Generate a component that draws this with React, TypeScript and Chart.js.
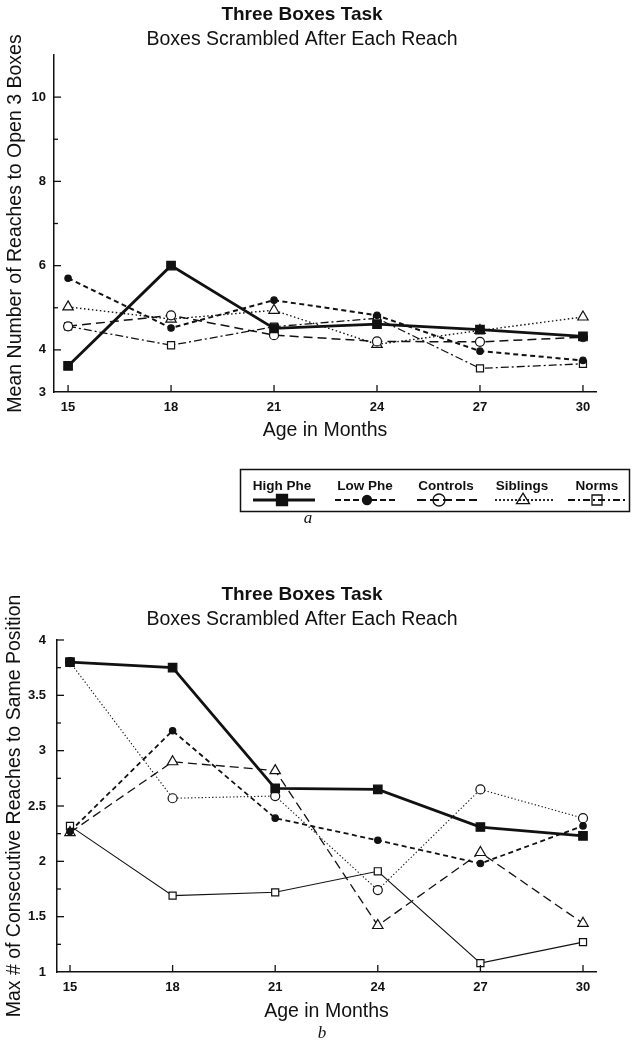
import React, { useEffect, useRef } from 'react';
import { Chart, registerables } from 'chart.js';

Chart.register(...registerables);

// ---------- data ----------
const ages = [15, 18, 21, 24, 27, 30];
const xTickLabels = ['15', '18', '21', '24', '27', '30'];
const seriesNames = ['High Phe', 'Low Phe', 'Controls', 'Siblings', 'Norms'];

// panel a: Mean Number of Reaches to Open 3 Boxes
const aHighPhe = [3.62, 6.0, 4.51, 4.61, 4.48, 4.32];
const aLowPhe = [5.7, 4.52, 5.18, 4.82, 3.97, 3.75];
const aControls = [4.56, 4.82, 4.35, 4.2, 4.19, 4.3];
const aSiblings = [5.02, 4.73, 4.94, 4.13, 4.46, 4.78];
const aNorms = [4.56, 4.11, 4.55, 4.75, 3.56, 3.67];
const aYTicks = [3, 4, 6, 8, 10];
const aYTickLabels = ['3', '4', '6', '8', '10'];
const aYMinor = [5, 7, 9];

// panel b: Max # of Consecutive Reaches to Same Position
const bHighPhe = [3.8, 3.75, 2.66, 2.65, 2.31, 2.23];
const bLowPhe = [2.27, 3.18, 2.39, 2.19, 1.98, 2.32];
const bControls = [3.8, 2.57, 2.59, 1.74, 2.65, 2.39];
const bSiblings = [2.26, 2.9, 2.82, 1.42, 2.08, 1.44];
const bNorms = [2.32, 1.69, 1.72, 1.91, 1.08, 1.27];
const bYTicks = [1, 1.5, 2, 2.5, 3, 3.5, 4];
const bYTickLabels = ['1', '1.5', '2', '2.5', '3', '3.5', '4'];
const bYMinor = [1.25, 1.75, 2.25, 2.75, 3.25, 3.75];

// ---------- styles ----------
const INK = '#111';
const SANS = "'Liberation Sans', Arial, Helvetica, sans-serif";
const SERIF = "'Liberation Serif', 'DejaVu Serif', serif";

type Style = {
  width: number;
  dash: number[];
  shape: 'rect' | 'circle' | 'triangle';
  radius: number;
  filled: boolean;
};

const aStyles: Style[] = [
  { width: 2.8, dash: [], shape: 'rect', radius: 6, filled: true },
  { width: 2, dash: [5, 3.5], shape: 'circle', radius: 3.2, filled: true },
  { width: 1.5, dash: [9, 5], shape: 'circle', radius: 4.5, filled: false },
  { width: 1.4, dash: [1.5, 2.5], shape: 'triangle', radius: 6, filled: false },
  { width: 1.3, dash: [8, 3, 2, 3], shape: 'rect', radius: 5, filled: false },
];

const bStyles: Style[] = [
  { width: 2.8, dash: [], shape: 'rect', radius: 6, filled: true },
  { width: 1.8, dash: [5, 3.5], shape: 'circle', radius: 3.2, filled: true },
  { width: 1.1, dash: [1.3, 2.2], shape: 'circle', radius: 4.5, filled: false },
  { width: 1.3, dash: [9, 5], shape: 'triangle', radius: 6, filled: false },
  { width: 1.1, dash: [], shape: 'rect', radius: 5, filled: false },
];

function makeDatasets(series: number[][], styles: Style[]) {
  return series.map((vals, i) => {
    const s = styles[i];
    return {
      label: seriesNames[i],
      data: ages.map((a, j) => ({ x: a, y: vals[j] })),
      borderColor: INK,
      borderWidth: s.width,
      borderDash: s.dash,
      fill: false,
      tension: 0,
      pointStyle: s.shape,
      pointRadius: s.radius,
      pointBorderColor: INK,
      pointBorderWidth: 1.2,
      pointBackgroundColor: s.filled ? INK : '#fff',
      backgroundColor: s.filled ? INK : '#fff',
    };
  });
}

function drawMarker(ctx: CanvasRenderingContext2D, shape: string, x: number, y: number, size: number, filled: boolean) {
  ctx.save();
  ctx.setLineDash([]);
  ctx.lineWidth = 1.3;
  ctx.strokeStyle = INK;
  ctx.fillStyle = filled ? INK : '#fff';
  ctx.beginPath();
  if (shape === 'rect') {
    ctx.rect(x - size / 2, y - size / 2, size, size);
  } else if (shape === 'circle') {
    ctx.arc(x, y, size / 2, 0, Math.PI * 2);
  } else {
    const h = size * 0.8;
    ctx.moveTo(x, y - h * 0.66);
    ctx.lineTo(x + size / 2, y + h * 0.34);
    ctx.lineTo(x - size / 2, y + h * 0.34);
    ctx.closePath();
  }
  if (filled) ctx.fill();
  ctx.stroke();
  ctx.restore();
}

type DecorCfg = {
  titleX: number;
  titleY: number;
  subtitleY: number;
  letter: string;
  letterX: number;
  letterY: number;
  yTicks: number[];
  yMinor: number[];
  legend: boolean;
};

function makeDecor(cfg: DecorCfg) {
  return {
    id: 'decor',
    afterDraw(chart: any) {
      const ctx: CanvasRenderingContext2D = chart.ctx;
      const { left, bottom } = chart.chartArea;
      const xs = chart.scales.x;
      const ys = chart.scales.y;
      ctx.save();
      ctx.strokeStyle = INK;
      ctx.lineWidth = 1.3;
      ctx.setLineDash([]);
      const seg = (x1: number, y1: number, x2: number, y2: number) => {
        ctx.beginPath();
        ctx.moveTo(x1, y1);
        ctx.lineTo(x2, y2);
        ctx.stroke();
      };
      ages.forEach((a) => {
        const px = xs.getPixelForValue(a);
        seg(px, bottom, px, bottom - 7);
      });
      cfg.yTicks.forEach((v) => {
        if (v === ys.min) return;
        const py = ys.getPixelForValue(v);
        seg(left, py, left + 7, py);
      });
      cfg.yMinor.forEach((v) => {
        const py = ys.getPixelForValue(v);
        seg(left, py, left + 4, py);
      });

      ctx.fillStyle = INK;
      ctx.textAlign = 'center';
      ctx.textBaseline = 'middle';
      ctx.font = `bold 19px ${SANS}`;
      ctx.fillText('Three Boxes Task', cfg.titleX, cfg.titleY);
      ctx.font = `19.5px ${SANS}`;
      ctx.fillText('Boxes Scrambled After Each Reach', cfg.titleX, cfg.subtitleY);
      ctx.font = `italic 17px ${SERIF}`;
      ctx.fillText(cfg.letter, cfg.letterX, cfg.letterY);

      if (cfg.legend) {
        ctx.lineWidth = 1.5;
        ctx.strokeRect(240.5, 469.5, 389, 42);
        const items = [
          { tx: 282, x1: 253, x2: 315, mx: 282, size: 11, lw: 3, dash: [] as number[] },
          { tx: 365, x1: 335, x2: 397, mx: 367, size: 9, lw: 2.2, dash: [6, 3] },
          { tx: 446, x1: 417, x2: 477, mx: 439, size: 12, lw: 2.2, dash: [9, 4] },
          { tx: 522, x1: 495, x2: 553, mx: 523, size: 13, lw: 1.8, dash: [2, 2] },
          { tx: 597, x1: 568, x2: 628, mx: 597, size: 10, lw: 2, dash: [7, 3, 2, 3] },
        ];
        items.forEach((it, i) => {
          ctx.font = `bold 13.5px ${SANS}`;
          ctx.fillStyle = INK;
          ctx.textAlign = 'center';
          ctx.textBaseline = 'middle';
          ctx.fillText(seriesNames[i], it.tx, 486);
          ctx.save();
          ctx.lineWidth = it.lw;
          ctx.setLineDash(it.dash);
          seg(it.x1, 500, it.x2, 500);
          ctx.restore();
          const st = aStyles[i];
          if (i === 2) {
            // open circle with the line passing through
            ctx.save();
            ctx.lineWidth = 1.3;
            ctx.setLineDash([]);
            ctx.beginPath();
            ctx.arc(it.mx, 500, it.size / 2, 0, Math.PI * 2);
            ctx.stroke();
            ctx.restore();
          } else {
            drawMarker(ctx, st.shape, it.mx, 500, it.size, st.filled);
          }
        });
      }
      ctx.restore();
    },
  };
}

type PanelCfg = {
  height: number;
  padTop: number;
  padBottom: number;
  yWidth: number;
  yLabelPad: number;
  yTitlePad: number;
  xTitlePad: number;
  xMin: number;
  xMax: number;
  yMin: number;
  yMax: number;
  yTicks: number[];
  yTickLabels: string[];
  yMinor: number[];
  yTitle: string;
  series: number[][];
  styles: Style[];
  decor: DecorCfg;
};

function buildConfig(p: PanelCfg): any {
  const tickFont = { family: SANS, size: 13, weight: 'bold' as const };
  const titleFont = { family: SANS, size: 19.5, weight: 'normal' as const };
  return {
    type: 'line',
    data: { datasets: makeDatasets(p.series, p.styles) },
    options: {
      responsive: false,
      animation: false,
      devicePixelRatio: 1,
      layout: { padding: { top: p.padTop, left: 0, right: 36, bottom: p.padBottom } },
      plugins: {
        legend: { display: false },
        tooltip: { enabled: false },
        title: { display: false },
      },
      scales: {
        x: {
          type: 'linear',
          min: p.xMin,
          max: p.xMax,
          grid: { display: false, drawTicks: false },
          border: { display: true, color: INK, width: 1.5 },
          ticks: {
            font: tickFont,
            color: INK,
            padding: 8,
            autoSkip: false,
            maxRotation: 0,
            callback: (v: number) => {
              const i = ages.indexOf(v);
              return i >= 0 ? xTickLabels[i] : '';
            },
          },
          afterBuildTicks: (s: any) => {
            s.ticks = ages.map((v) => ({ value: v }));
          },
          afterFit: (s: any) => {
            s.height = 55;
          },
          title: {
            display: true,
            text: 'Age in Months',
            font: titleFont,
            color: INK,
            padding: { top: 0, bottom: p.xTitlePad },
          },
        },
        y: {
          type: 'linear',
          min: p.yMin,
          max: p.yMax,
          grid: { display: false, drawTicks: false },
          border: { display: true, color: INK, width: 1.5 },
          ticks: {
            font: tickFont,
            color: INK,
            padding: p.yLabelPad,
            autoSkip: false,
            callback: (v: number) => {
              const i = p.yTicks.indexOf(v);
              return i >= 0 ? p.yTickLabels[i] : '';
            },
          },
          afterBuildTicks: (s: any) => {
            s.ticks = p.yTicks.map((v) => ({ value: v }));
          },
          afterFit: (s: any) => {
            s.width = p.yWidth;
          },
          title: {
            display: true,
            text: p.yTitle,
            font: titleFont,
            color: INK,
            padding: { top: p.yTitlePad, bottom: 0 },
          },
        },
      },
    },
    plugins: [makeDecor(p.decor)],
  };
}

const panelA: PanelCfg = {
  height: 540,
  padTop: 55,
  padBottom: 540 - 392 - 55,
  yWidth: 54,
  yLabelPad: 8,
  yTitlePad: 4,
  xTitlePad: 5,
  xMin: 14.59,
  xMax: 30.38,
  yMin: 3,
  yMax: 11,
  yTicks: aYTicks,
  yTickLabels: aYTickLabels,
  yMinor: aYMinor,
  yTitle: 'Mean Number of Reaches to Open 3 Boxes',
  series: [aHighPhe, aLowPhe, aControls, aSiblings, aNorms],
  styles: aStyles,
  decor: {
    titleX: 302,
    titleY: 15,
    subtitleY: 40,
    letter: 'a',
    letterX: 308,
    letterY: 519,
    yTicks: aYTicks,
    yMinor: aYMinor,
    legend: true,
  },
};

const panelB: PanelCfg = {
  height: 506,
  padTop: 100,
  padBottom: 506 - 432 - 55,
  yWidth: 57,
  yLabelPad: 11,
  yTitlePad: 2.5,
  xTitlePad: 3.5,
  xMin: 14.62,
  xMax: 30.38,
  yMin: 1,
  yMax: 4,
  yTicks: bYTicks,
  yTickLabels: bYTickLabels,
  yMinor: bYMinor,
  yTitle: 'Max # of Consecutive Reaches to Same Position',
  series: [bHighPhe, bLowPhe, bControls, bSiblings, bNorms],
  styles: bStyles,
  decor: {
    titleX: 302,
    titleY: 55,
    subtitleY: 80,
    letter: 'b',
    letterX: 322,
    letterY: 494,
    yTicks: bYTicks,
    yMinor: bYMinor,
    legend: false,
  },
};

function Panel({ cfg, top }: { cfg: PanelCfg; top: number }) {
  const ref = useRef<HTMLCanvasElement | null>(null);
  useEffect(() => {
    if (!ref.current) return;
    const chart = new Chart(ref.current, buildConfig(cfg));
    return () => chart.destroy();
  }, [cfg]);
  return (
    <canvas
      ref={ref}
      width={632}
      height={cfg.height}
      style={{ position: 'absolute', left: 0, top, width: 632, height: cfg.height, display: 'block' }}
    />
  );
}

export default function App() {
  return (
    <div
      style={{
        position: 'absolute',
        left: 0,
        top: 0,
        width: 632,
        height: 1046,
        background: '#fff',
        overflow: 'hidden',
      }}
    >
      <Panel cfg={panelA} top={0} />
      <Panel cfg={panelB} top={540} />
    </div>
  );
}
